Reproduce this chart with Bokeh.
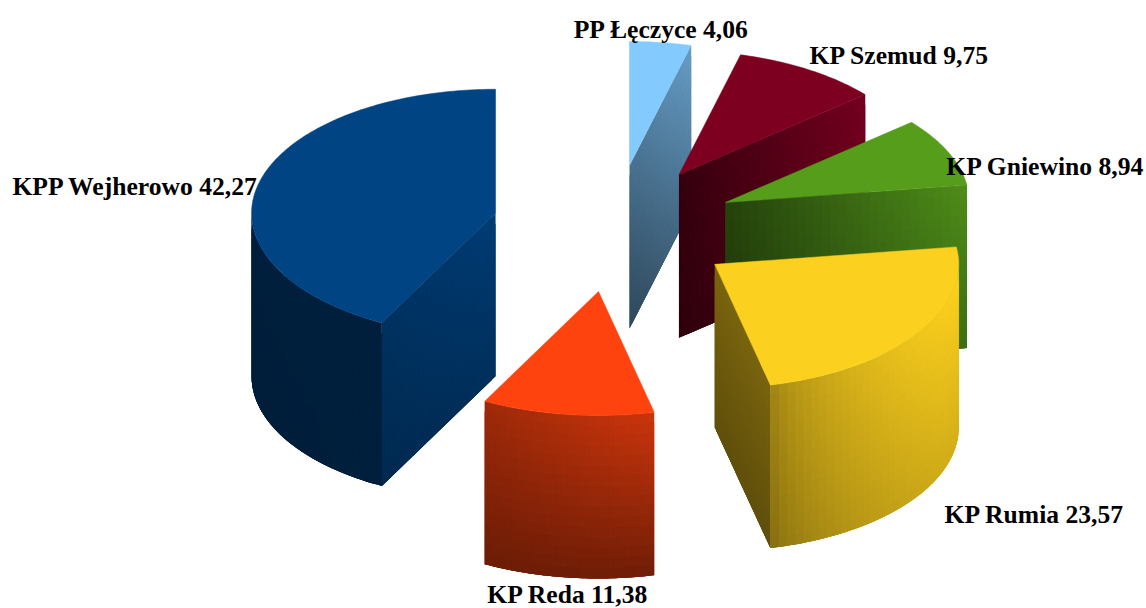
import math
from bokeh.plotting import figure
from bokeh.models import Range1d
from bokeh.core.properties import value
from bokeh.embed import file_html
from bokeh.resources import INLINE

# ---- data (clockwise from north) ----
units = ["PP Łęczyce", "KP Szemud", "KP Gniewino", "KP Rumia", "KP Reda", "KPP Wejherowo"]
shares = [4.06, 9.75, 8.94, 23.57, 11.38, 42.27]
share_labels = ["4,06", "9,75", "8,94", "23,57", "11,38", "42,27"]

# ---- style ----
base_colors = ["#83CAFF", "#7E0021", "#579D1C", "#FCD01E", "#FF430F", "#004484"]
# shade multipliers of a face: top-left, top-right, bottom-left, bottom-right, gamma along x
cut_shades = [(.55, .78, .35, .55, 1.0), (.42, .92, .36, .80, 1.0), (.42, .90, .34, .70, 1.0),
              (.48, .48, .38, .38, 1.0), None, (.72, .88, .60, .70, 1.0)]
wall_shades = [None, None, None, (.60, 1.0, .50, .84, .55), (.62, .80, .42, .44, 1.0),
               (.46, .46, .43, .46, 1.0)]
label_x = [661, 899, 1045, 1034, 567.5, 135]
label_y = [29, 55, 166, 514, 593.5, 186]

# ---- geometry of the exploded pie, in page pixels ----
CX, CY = 613.5, 228        # centre of the pie
RX, RY = 244, 124          # radii of the elliptical top
EXPLODE_X, EXPLODE_Y = 122, 63.5
DEPTH = 163
NU, NV = 30, 16


def mix(hex_color, m):
    r, g, b = (int(hex_color[i:i + 2], 16) for i in (1, 3, 5))
    return "#%02x%02x%02x" % tuple(min(255, int(round(c * m))) for c in (r, g, b))


def point(ax, ay, deg):
    t = math.radians(deg)
    return ax + RX * math.sin(t), ay - RY * math.cos(t)


def shade_at(shade, un, vn):
    un = un ** shade[4]
    return (shade[0] * (1 - un) + shade[1] * un) * (1 - vn) + (shade[2] * (1 - un) + shade[3] * un) * vn


p = figure(width=1146, height=608, output_backend="svg", toolbar_location=None,
           x_range=Range1d(0, 1146), y_range=Range1d(608, 0),
           x_axis_location=None, y_axis_location=None, min_border=0)
p.grid.visible = False
p.outline_line_color = None
p.background_fill_color = "#ffffff"
p.border_fill_color = "#ffffff"

total = sum(shares)
start = 0.0
for i, share in enumerate(shares):
    sweep = share / total * 360
    end = start + sweep
    mid = math.radians((start + end) / 2)
    ax = CX + EXPLODE_X * math.sin(mid)
    ay = CY - EXPLODE_Y * math.cos(mid)
    base = base_colors[i]
    xs, ys, cs = [], [], []

    # radial cut face (each cell overlaps the next one, so no seams show)
    shade = cut_shades[i]
    a_edge = end if i < 4 else start
    if shade:
        ex, ey = point(ax, ay, a_edge)
        for iu in range(NU):
            u0, u1 = iu / NU, min(1, (iu + 2) / NU)
            for iv in range(NV):
                v0, v1 = iv / NV, min(1, (iv + 2) / NV)
                x0, y0 = ax + (ex - ax) * u0, ay + (ey - ay) * u0
                x1, y1 = ax + (ex - ax) * u1, ay + (ey - ay) * u1
                xs.append([x0, x1, x1, x0])
                ys.append([y0 + DEPTH * v0, y1 + DEPTH * v0, y1 + DEPTH * v1, y0 + DEPTH * v1])
                un = (iu + .5) / NU if ex > ax else 1 - (iu + .5) / NU
                cs.append(mix(base, shade_at(shade, un, (iv + .5) / NV)))

    # outer wall, front half only
    shade = wall_shades[i]
    if shade:
        lo, hi = max(start, 90), min(end, 270)
        x_a, x_b = point(ax, ay, lo)[0], point(ax, ay, hi)[0]
        xl, xr = min(x_a, x_b), max(x_a, x_b)
        n = max(NU, int((hi - lo) / 2))
        for iu in range(n):
            a0, a1 = lo + (hi - lo) * iu / n, lo + (hi - lo) * min(n, iu + 2) / n
            am = lo + (hi - lo) * (iu + .5) / n
            pts = [point(ax, ay, a0 + (a1 - a0) * k / 3) for k in range(4)]
            xm = point(ax, ay, am)[0]
            for iv in range(NV):
                v0, v1 = iv / NV, min(1, (iv + 2) / NV)
                xs.append([q[0] for q in pts] + [q[0] for q in pts[::-1]])
                ys.append([q[1] + DEPTH * v0 for q in pts] + [q[1] + DEPTH * v1 for q in pts[::-1]])
                cs.append(mix(base, shade_at(shade, (xm - xl) / (xr - xl), (iv + .5) / NV)))

    if xs:
        p.patches(xs, ys, fill_color=cs, line_color=None)

    # top face
    n = max(4, int(sweep))
    arc = [point(ax, ay, start + sweep * k / n) for k in range(n + 1)]
    p.patch([ax] + [q[0] for q in arc], [ay] + [q[1] for q in arc], fill_color=base, line_color=base, line_width=0.5)
    start = end

labels = [f"{u} {v}" for u, v in zip(units, share_labels)]
p.text(x=label_x, y=label_y, text=labels, text_font=value("Liberation Serif"), text_font_style="bold",
       text_font_size="25.6px", text_color="#000000", text_align="center", text_baseline="middle")

open("out.html", "w").write(file_html(p, INLINE))
